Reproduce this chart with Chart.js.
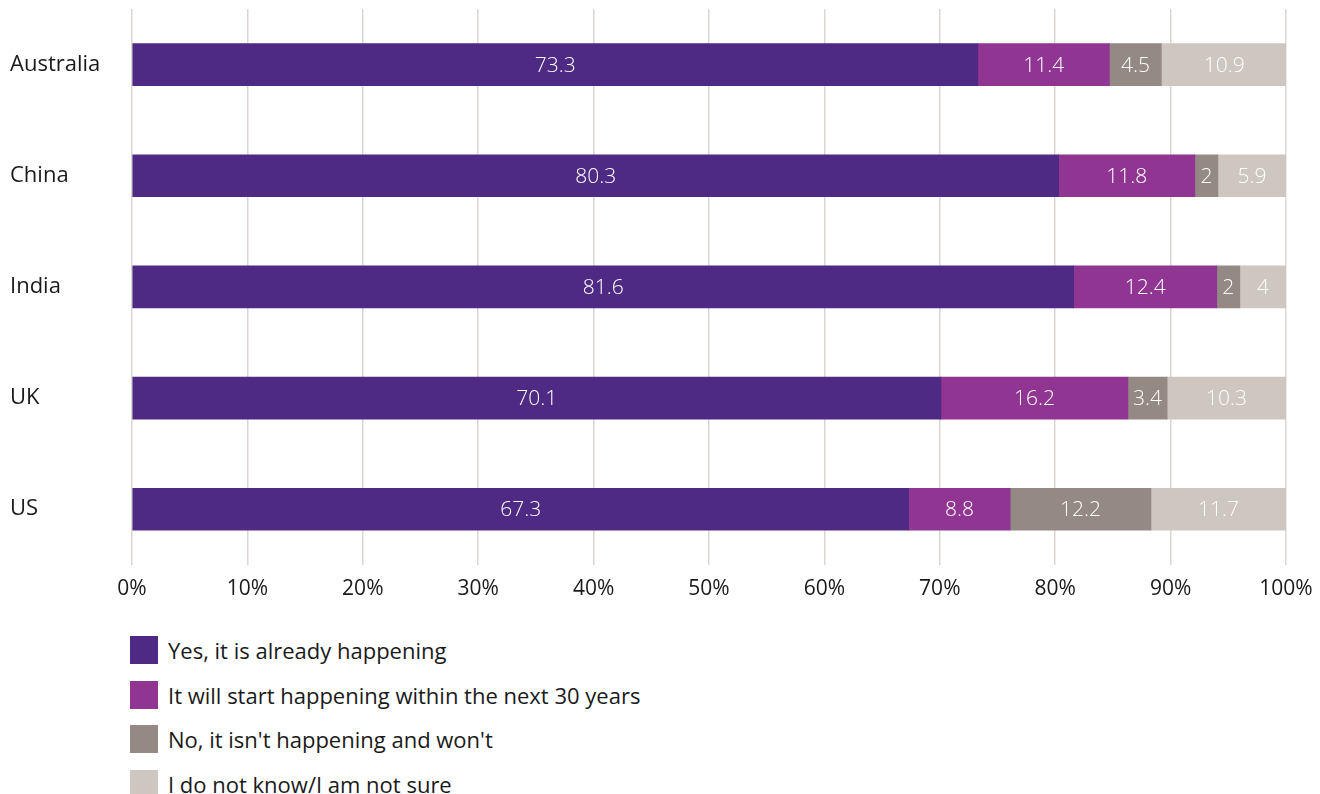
<!DOCTYPE html>
<html>
<head>
<meta charset="utf-8">
<script src="https://cdn.jsdelivr.net/npm/chart.js@4"></script>
<style>
  body { margin: 0; background: #fff; font-family: "Open Sans", sans-serif; }
  #wrap { position: relative; width: 1320px; height: 620px; }
  #legend { position: absolute; left: 130px; top: 628px; margin: 0; padding: 0; list-style: none; }
  #legend li { display: flex; align-items: center; height: 44.5px; font-size: 22px; color: #1a1a1a; }
  #legend span.box { width: 28px; height: 28px; margin-right: 10px; display: inline-block; }
</style>
</head>
<body>
<div id="wrap"><canvas id="chart"></canvas></div>
<ul id="legend"></ul>
<script>
// data
const countries = ['Australia', 'China', 'India', 'UK', 'US'];
const seriesNames = [
  'Yes, it is already happening',
  'It will start happening within the next 30 years',
  "No, it isn't happening and won't",
  'I do not know/I am not sure'
];
const alreadyHappening = [73.3, 80.3, 81.6, 70.1, 67.3];
const within30Years = [11.4, 11.8, 12.4, 16.2, 8.8];
const notHappening = [4.5, 2, 2, 3.4, 12.2];
const notSure = [10.9, 5.9, 4, 10.3, 11.7];
const xTicks = [0, 10, 20, 30, 40, 50, 60, 70, 80, 90, 100];

const colors = ['#4e2a84', '#903592', '#948985', '#cec6c1'];

const data = {
  labels: countries,
  datasets: [alreadyHappening, within30Years, notHappening, notSure].map((vals, i) => ({
    label: seriesNames[i],
    data: vals,
    backgroundColor: colors[i],
    borderWidth: 0,
    barThickness: 42
  }))
};

// labels inside the bars
const barLabels = {
  id: 'barLabels',
  afterDatasetsDraw(chart) {
    const ctx = chart.ctx;
    ctx.save();
    ctx.fillStyle = '#ffffff';
    ctx.font = '300 21px "Open Sans"';
    ctx.textAlign = 'center';
    ctx.textBaseline = 'middle';
    chart.data.datasets.forEach((ds, i) => {
      chart.getDatasetMeta(i).data.forEach((bar, j) => {
        const cx = (bar.x + bar.base) / 2;
        ctx.fillText(String(ds.data[j]), cx, bar.y + 1);
      });
    });
    ctx.restore();
  }
};

const config = {
  type: 'bar',
  data,
  options: {
    indexAxis: 'y',
    responsive: false,
    animation: false,
    layout: { padding: { top: 9, right: 34, bottom: 6, left: 10 } },
    plugins: {
      legend: { display: false },
      tooltip: { enabled: false }
    },
    scales: {
      x: {
        stacked: true,
        min: 0,
        max: 100,
        afterBuildTicks(scale) {
          scale.ticks = xTicks.map(v => ({ value: v }));
        },
        afterFit(scale) { scale.paddingLeft = 0; scale.paddingRight = 0; },
        grid: { color: '#dcd6d3', lineWidth: 1.5, drawTicks: false },
        border: { display: false },
        ticks: {
          padding: 12,
          color: '#1a1a1a',
          font: { family: 'Open Sans', size: 21 },
          callback: v => v + '%'
        }
      },
      y: {
        stacked: true,
        grid: { display: false },
        border: { display: false },
        afterFit(scale) {
          scale.width = 122;
          scale.paddingTop = 0;
          scale.paddingBottom = 0;
        },
        ticks: {
          crossAlign: 'far',
          color: '#1a1a1a',
          padding: 0,
          font: { family: 'Open Sans', size: 22 }
        }
      }
    }
  },
  plugins: [barLabels]
};

const canvas = document.getElementById('chart');
canvas.width = 1320;
canvas.height = 620;
const myChart = new Chart(canvas, config);

// legend as a vertical list
const legendEl = document.getElementById('legend');
data.datasets.forEach(ds => {
  const li = document.createElement('li');
  li.innerHTML = '<span class="box" style="background:' + ds.backgroundColor + '"></span>' + ds.label;
  legendEl.appendChild(li);
});
</script>
</body>
</html>
